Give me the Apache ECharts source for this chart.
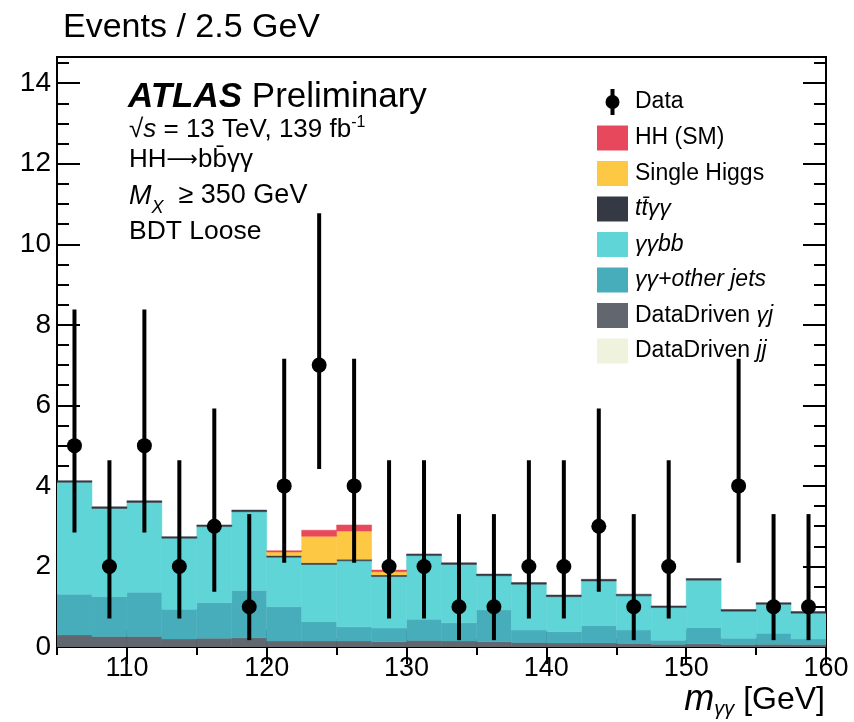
<!DOCTYPE html>
<html><head><meta charset="utf-8">
<script src="https://cdn.jsdelivr.net/npm/echarts@6/dist/echarts.min.js"></script>
<style>html,body{margin:0;padding:0;background:#fff}#c{width:854px;height:722px}</style>
</head><body><div id="c"></div>
<script>
// ---- data ----
const binLow    = [105,107.5,110,112.5,115,117.5,120,122.5,125,127.5,130,132.5,135,137.5,140,142.5,145,147.5,150,152.5,155,157.5];
const binHigh   = [107.5,110,112.5,115,117.5,120,122.5,125,127.5,130,132.5,135,137.5,140,142.5,145,147.5,150,152.5,155,157.5,160];
const binCenter = [106.25,108.75,111.25,113.75,116.25,118.75,121.25,123.75,126.25,128.75,131.25,133.75,136.25,138.75,141.25,143.75,146.25,148.75,151.25,153.75,156.25,158.75];
const dataCounts  = [5,2,5,2,3,1,4,7,4,2,2,1,1,2,2,3,1,2,0,4,1,1];
const dataErrLow  = [2.84,0.71,2.84,0.71,1.37,0.17,2.09,4.42,2.09,0.71,0.71,0.17,0.17,0.71,0.71,1.37,0.17,0.71,0,2.09,0.17,0.17];
const dataErrHigh = [8.38,4.64,8.38,4.64,5.92,3.30,7.16,10.77,7.16,4.64,4.64,3.30,3.30,4.64,4.64,5.92,3.30,4.64,0,7.16,3.30,3.30];
const bkgDDjj   = [0,0,0,0,0,0,0,0,0,0,0,0,0,0,0,0,0,0,0,0,0,0];
const bkgDDgj   = [0.30,0.26,0.26,0.20,0.22,0.23,0.15,0.15,0.15,0.13,0.16,0.15,0.13,0.11,0.10,0.10,0.09,0.07,0.08,0.06,0.07,0.06];
const bkgOther  = [1.01,0.99,1.10,0.74,0.88,1.17,0.85,0.48,0.35,0.34,0.53,0.45,0.79,0.31,0.28,0.43,0.33,0.10,0.40,0.16,0.27,0.14];
const bkgGGbb   = [2.78,2.19,2.23,1.76,1.89,1.96,1.23,1.42,1.64,1.28,1.58,1.45,0.85,1.14,0.87,1.11,0.85,0.81,1.18,0.67,0.72,0.64];
const bkgTTgg   = [0.04,0.04,0.04,0.04,0.04,0.04,0.04,0.04,0.04,0.04,0.04,0.04,0.04,0.04,0.04,0.04,0.04,0.04,0.04,0.04,0.04,0.04];
const bkgSingleH= [0,0,0,0,0,0,0.09,0.66,0.70,0.08,0,0,0,0,0,0,0,0,0,0,0,0];
const sigHH     = [0,0,0,0,0,0,0.03,0.15,0.15,0.04,0,0,0,0,0,0,0,0,0,0,0,0];
const xMajorTicks = [110,120,130,140,150,160];

const components = [
  {name:'DataDriven jj', values:bkgDDjj, color:'#eff2dc'},
  {name:'DataDriven γj', values:bkgDDgj, color:'#62666e'},
  {name:'γγ+other jets', values:bkgOther, color:'#48adbb'},
  {name:'γγbb', values:bkgGGbb, color:'#5fd5d7'},
  {name:'ttγγ', values:bkgTTgg, color:'#353943'},
  {name:'Single Higgs', values:bkgSingleH, color:'#fdc843'},
  {name:'HH (SM)', values:sigHH, color:'#e8485c'}
];

const FONT = 'Liberation Sans, Arial, sans-serif';
const YMAX = 14.65;

function histItem(color){
  return function(params, api){
    const a = api.coord([api.value(0), api.value(3)]);
    const b = api.coord([api.value(1), api.value(2)]);
    return {type:'rect', shape:{x:a[0], y:a[1], width:b[0]-a[0], height:b[1]-a[1]},
      style:{fill:color, stroke:color, lineWidth:0.5}};
  };
}

const series = [];
const base = binLow.map(()=>0);
components.forEach(c=>{
  const d = [];
  for (let i=0;i<binLow.length;i++){
    const lo = base[i], hi = base[i]+c.values[i];
    if (c.values[i] > 0) d.push([binLow[i], binHigh[i], lo, hi]);
    base[i] = hi;
  }
  series.push({type:'custom', name:c.name, xAxisIndex:0, yAxisIndex:0, clip:true,
    renderItem:histItem(c.color), encode:{x:[0,1], y:[2,3]}, data:d, z:2});
});

const errData = [], ptData = [];
for (let i=0;i<binCenter.length;i++){
  if (dataCounts[i] > 0){
    errData.push([binCenter[i], dataErrLow[i], dataErrHigh[i]]);
    ptData.push([binCenter[i], dataCounts[i]]);
  }
}
series.push({type:'custom', name:'DataErr', xAxisIndex:0, yAxisIndex:0, z:5,
  renderItem:function(params, api){
    const a = api.coord([api.value(0), api.value(1)]);
    const b = api.coord([api.value(0), api.value(2)]);
    return {type:'line', shape:{x1:a[0], y1:a[1], x2:b[0], y2:b[1]}, style:{stroke:'#000', lineWidth:4}};
  }, encode:{x:0, y:[1,2]}, data:errData});
series.push({type:'scatter', name:'Data', xAxisIndex:0, yAxisIndex:0, z:6, symbol:'circle', symbolSize:15,
  itemStyle:{color:'#000', opacity:1}, data:ptData});

function xAxis(pos, ticks, len, labels){
  const ax = {type:'value', min:105, max:160, position:pos, gridIndex:0,
    axisLine:{show:false}, splitLine:{show:false},
    axisTick:{show:true, inside:true, length:len, lineStyle:{color:'#000', width:2}},
    axisLabel:{show:!!labels, color:'#000', fontSize:27, fontFamily:FONT, margin:8}};
  if (ticks === 'interval'){ ax.interval = 5; }
  else { ax.axisTick.customValues = ticks; ax.axisLabel.customValues = ticks; }
  return ax;
}
function yAxis(pos, interval, len, labels){
  return {type:'value', min:0, max:YMAX, interval:interval, position:pos, gridIndex:0,
    axisLine:{show:false}, splitLine:{show:false},
    axisTick:{show:true, inside:true, length:len, lineStyle:{color:'#000', width:2}},
    axisLabel:{show:!!labels, color:'#000', fontSize:28, fontFamily:FONT, margin:6, showMaxLabel:false}};
}

// legend
const legendItems = [
  {rich:'{n|Data}', color:null},
  {rich:'{n|HH (SM)}', color:'#e8485c'},
  {rich:'{n|Single Higgs}', color:'#fdc843'},
  {rich:'{i|tt\u0304γγ}', color:'#353943'},
  {rich:'{i|γγbb}', color:'#5fd5d7'},
  {rich:'{i|γγ+other jets}', color:'#48adbb'},
  {rich:'{n|DataDriven }{i|γj}', color:'#62666e'},
  {rich:'{n|DataDriven }{i|jj}', color:'#eff2dc'}
];
const legY = [102,138,173.5,209,244.5,280,315.5,351];
const graphics = [];
legendItems.forEach((it,k)=>{
  const y = legY[k];
  if (it.color){
    graphics.push({type:'rect', left:597, top:y-12.5, shape:{width:31, height:25}, style:{fill:it.color}});
  } else {
    graphics.push({type:'line', shape:{x1:612.5, y1:y-13, x2:612.5, y2:y+13}, style:{stroke:'#000', lineWidth:4}});
    graphics.push({type:'circle', shape:{cx:612.5, cy:y, r:7}, style:{fill:'#000'}});
  }
  graphics.push({type:'text', x:635, y:y, style:{text:it.rich, verticalAlign:'middle', fill:'#000',
    rich:{n:{fontSize:23, fontFamily:FONT, fill:'#000'}, i:{fontSize:23, fontFamily:FONT, fontStyle:'italic', fill:'#000'}}}});
});

// title & annotations
graphics.push({type:'text', x:63, y:28, style:{text:'Events / 2.5 GeV', font:'34px '+FONT, fill:'#000', verticalAlign:'middle'}});
graphics.push({type:'text', x:128, y:97, style:{text:'{b|ATLAS}{n| Preliminary}', verticalAlign:'middle', fill:'#000',
  rich:{b:{fontSize:35, fontFamily:FONT, fontWeight:'bold', fontStyle:'italic', fill:'#000'}, n:{fontSize:35, fontFamily:FONT, fill:'#000'}}}});
graphics.push({type:'text', x:129, y:130, style:{text:'{n|√}{i|s}{n| = 13 TeV, 139 fb}{s|-1}', verticalAlign:'middle', fill:'#000',
  rich:{n:{fontSize:26, fontFamily:FONT, fill:'#000', lineHeight:30}, i:{fontSize:26, fontFamily:FONT, fontStyle:'italic', fill:'#000', lineHeight:30},
        s:{fontSize:16, fontFamily:FONT, fill:'#000', verticalAlign:'top', lineHeight:16}}}});
graphics.push({type:'text', x:129, y:160, style:{text:'{n|HH}{a|⟶}{n|bb\u0304γγ}', verticalAlign:'middle', fill:'#000',
  rich:{n:{fontSize:26, fontFamily:FONT, fill:'#000'}, a:{fontSize:22, fontFamily:'DejaVu Sans', fill:'#000'}}}});
graphics.push({type:'text', x:129, y:196, style:{text:'{i|M}{s|X}{n|  ≥ 350 GeV}', verticalAlign:'middle', fill:'#000',
  rich:{n:{fontSize:27, fontFamily:FONT, fill:'#000', lineHeight:30}, i:{fontSize:27, fontFamily:FONT, fontStyle:'italic', fill:'#000', lineHeight:30},
        s:{fontSize:18, fontFamily:FONT, fontStyle:'italic', fill:'#000', verticalAlign:'bottom', lineHeight:18, padding:[0,0,-6,0]}}}});
graphics.push({type:'text', x:129, y:232, style:{text:'BDT Loose', font:'26.5px '+FONT, fill:'#000', verticalAlign:'middle'}});
// x-axis title
graphics.push({type:'text', x:825, y:700, style:{text:'{i|m}{s|γγ}{n| [GeV]}', align:'right', verticalAlign:'middle', fill:'#000',
  rich:{n:{fontSize:32, fontFamily:FONT, fill:'#000', lineHeight:38}, i:{fontSize:36, fontFamily:FONT, fontStyle:'italic', fill:'#000', lineHeight:38},
        s:{fontSize:20, fontFamily:FONT, fontStyle:'italic', fill:'#000', verticalAlign:'bottom', lineHeight:20}}}});

const chart = echarts.init(document.getElementById('c'), null, {renderer:'canvas'});
chart.setOption({
  animation:false,
  backgroundColor:'#fff',
  grid:{left:57, right:28, top:57, bottom:75, show:true, borderColor:'#000', borderWidth:2, backgroundColor:'transparent'},
  xAxis:[
    xAxis('bottom','interval',8,false),
    xAxis('bottom',xMajorTicks,17,true),
    xAxis('top','interval',8,false),
    xAxis('top',xMajorTicks,17,false)
  ],
  yAxis:[
    yAxis('left',0.5,12,false),
    yAxis('left',2,23,true),
    yAxis('right',0.5,12,false),
    yAxis('right',2,23,false)
  ],
  series:series,
  graphic:graphics
});
</script></body></html>
